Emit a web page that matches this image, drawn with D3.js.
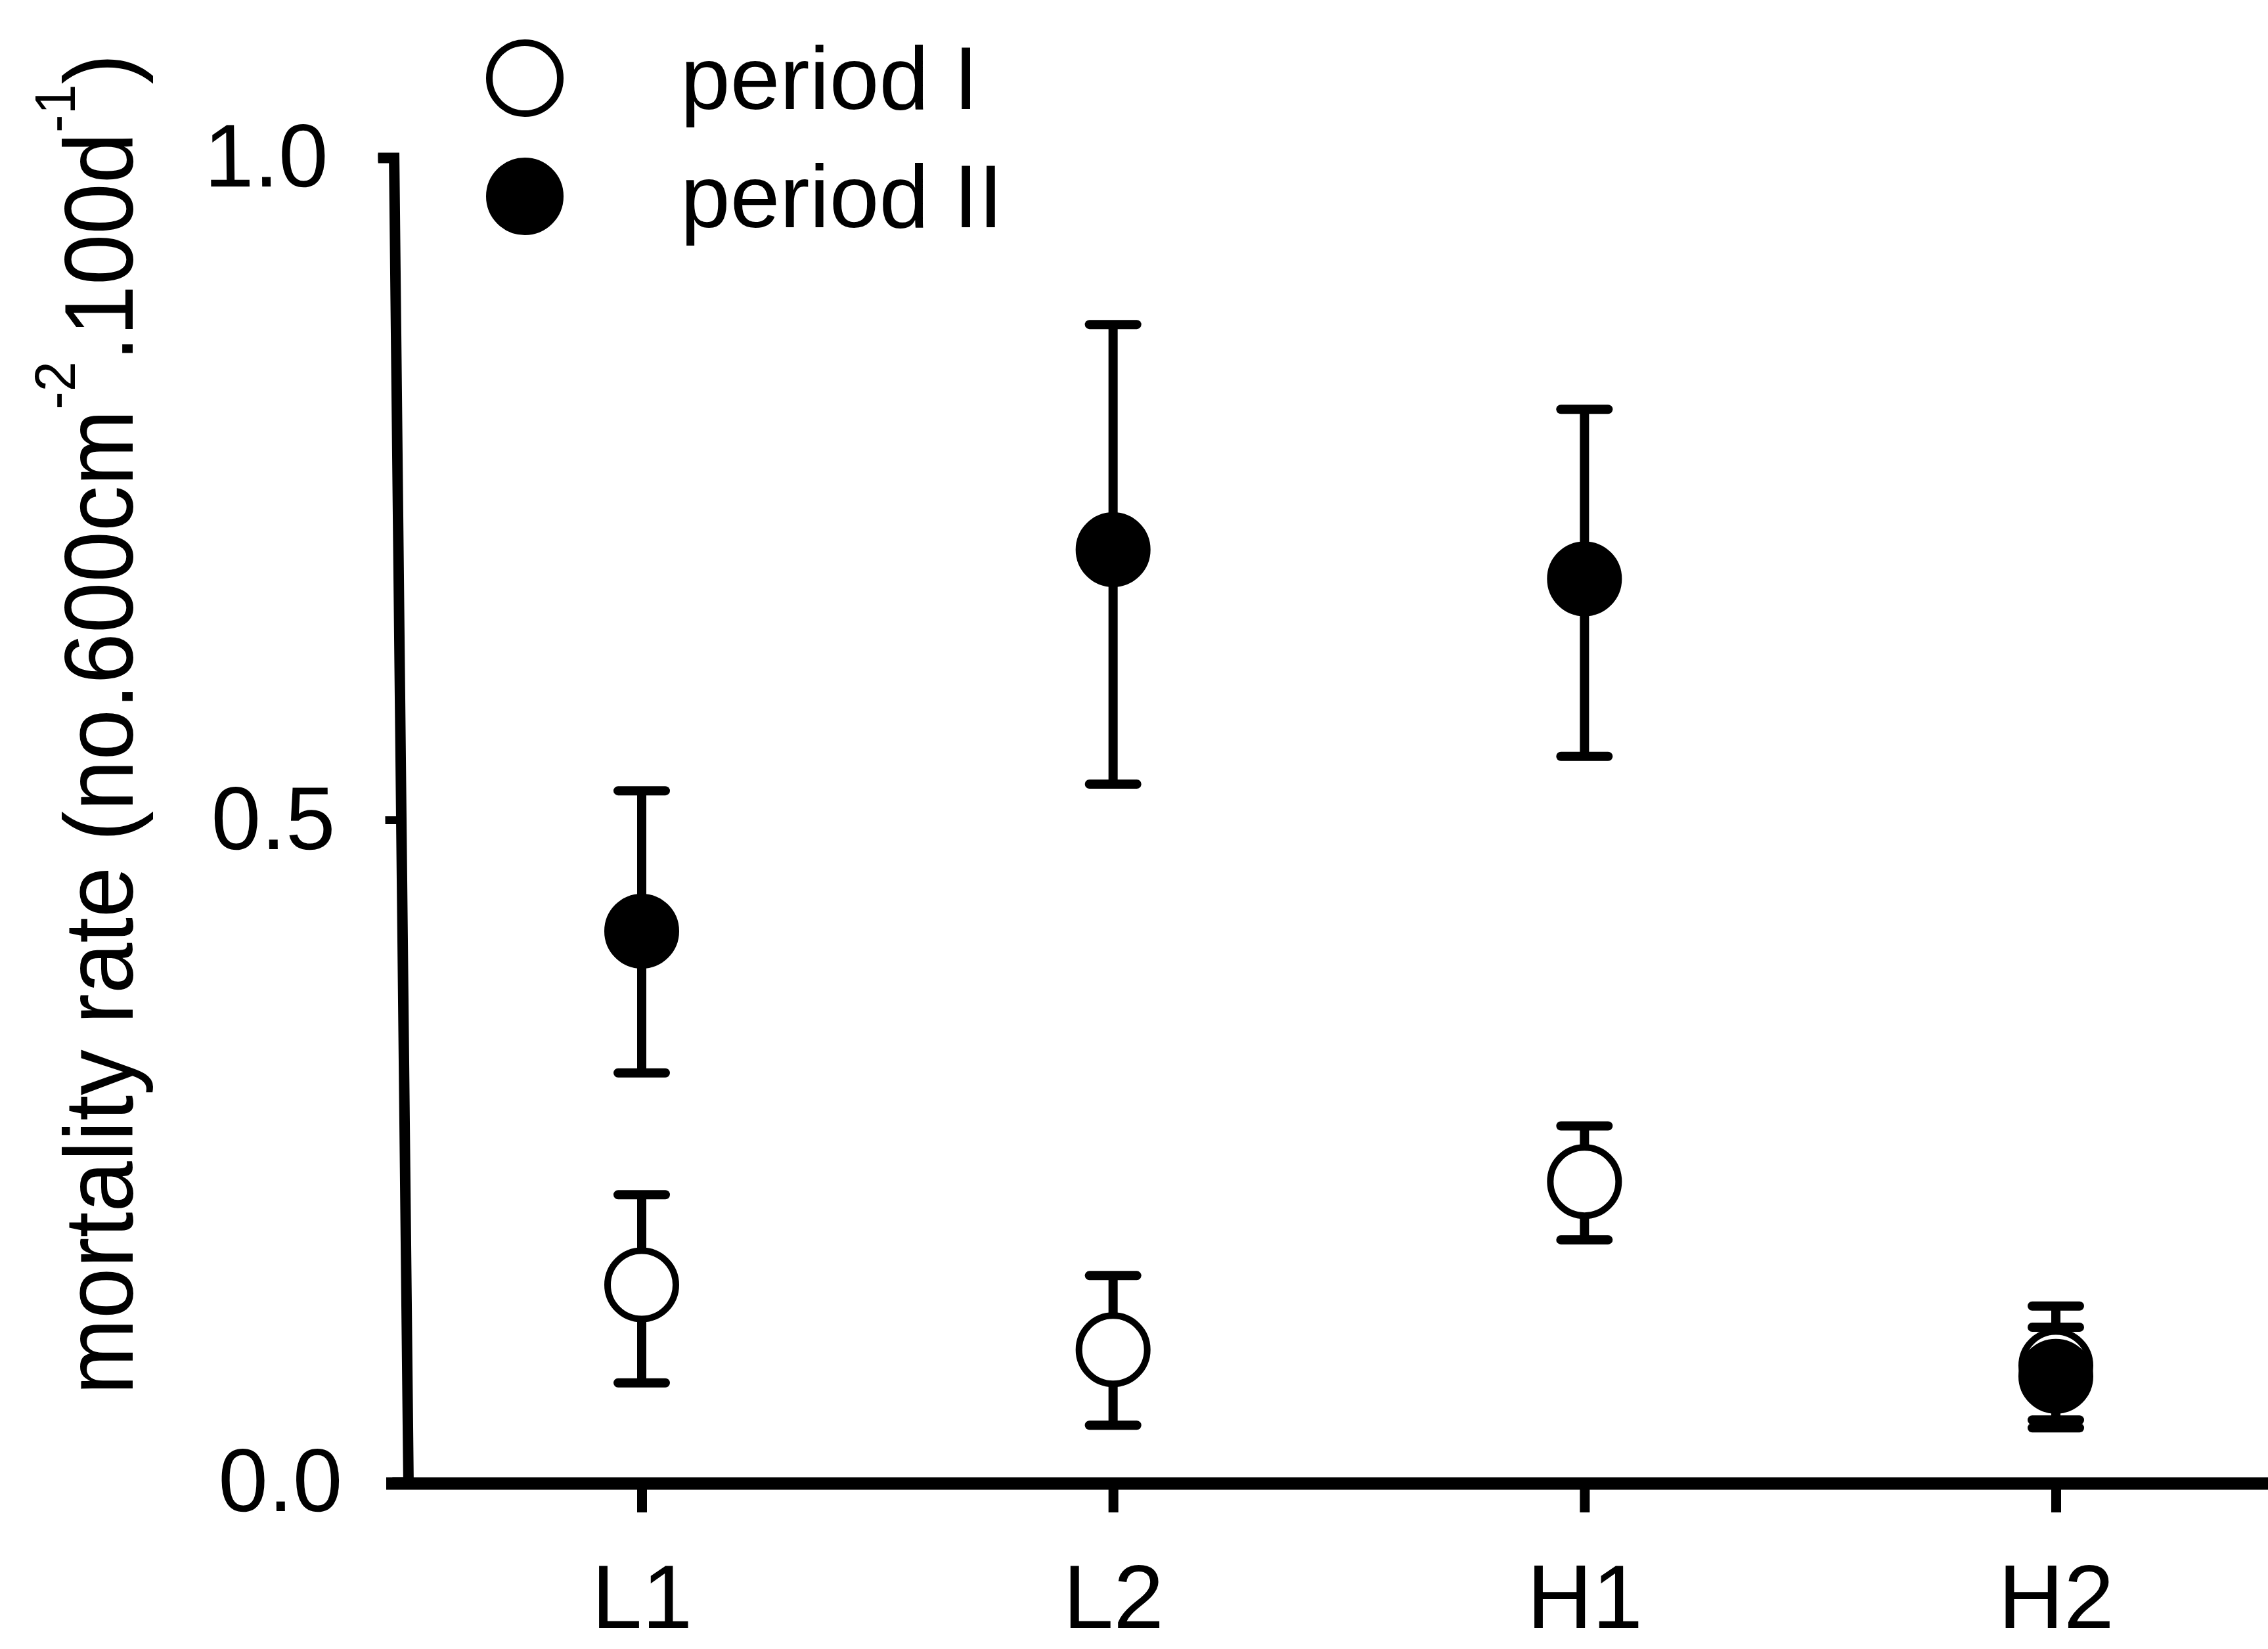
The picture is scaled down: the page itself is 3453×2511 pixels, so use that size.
<!DOCTYPE html>
<html>
<head>
<meta charset="utf-8">
<script src="https://cdn.jsdelivr.net/npm/d3@7"></script>
<style>
  html, body { margin: 0; padding: 0; background: #fff; }
  svg { display: block; }
  text { font-family: "Liberation Sans", Arial, Helvetica, sans-serif; fill: #000; }
</style>
</head>
<body>
<script>
// ---- data ----
const categories = ["L1", "L2", "H1", "H2"];
const seriesNames = ["period I", "period II"];
const periodI      = [0.149, 0.100, 0.227, 0.088];
const periodIHigh  = [0.217, 0.156, 0.269, 0.133];
const periodILow   = [0.075, 0.043, 0.183, 0.047];
const periodII     = [0.416, 0.704, 0.682, 0.080];
const periodIIHigh = [0.522, 0.874, 0.810, 0.117];
const periodIILow  = [0.309, 0.527, 0.548, 0.041];
const yTicks = [0.0, 0.5, 1.0];

// ---- layout ----
const W = 3453, H = 2511;
const svg = d3.select("body").append("svg").attr("width", W).attr("height", H);

const x = d3.scalePoint().domain(categories).range([977, 3130]);
const y = d3.scaleLinear().domain([0, 1]).range([2257, 240]);

const FONT = 136;

// y axis (slightly slanted as in the scanned original)
const yAxis = d3.axisLeft(y).tickValues(yTicks).tickFormat(d3.format(".1f"))
  .tickSize(24).tickSizeOuter(24).tickPadding(76);
const gy = svg.append("g").attr("transform", "translate(597,0) skewX(0.62)").call(yAxis);
gy.select(".domain").attr("stroke", "#000").attr("stroke-width", 16).attr("fill", "none");
gy.selectAll(".tick line").attr("stroke", "#000").attr("stroke-width", 12);
gy.selectAll(".tick text").style("font-size", FONT + "px").attr("font-family", null);

// x axis
const xAxis = d3.axisBottom(x).tickSize(46).tickSizeOuter(0).tickPadding(78);
const gx = svg.append("g").attr("transform", `translate(0,${y(0)})`).call(xAxis);
gx.select(".domain").remove();
gx.selectAll(".tick line").attr("stroke", "#000").attr("stroke-width", 15);
gx.selectAll(".tick text").style("font-size", "138px").attr("font-family", null);
svg.append("line")
  .attr("x1", 588).attr("x2", W)
  .attr("y1", y(0) + 2).attr("y2", y(0) + 2)
  .attr("stroke", "#000").attr("stroke-width", 19);

// y title
const title = svg.append("text")
  .attr("transform", `translate(202,${(82 + 2124) / 2}) rotate(-90)`)
  .attr("text-anchor", "middle")
  .attr("textLength", 2042)
  .attr("lengthAdjust", "spacingAndGlyphs")
  .style("font-size", "148px");
title.append("tspan").text("mortality rate (no.600cm");
title.append("tspan").attr("dy", -88).style("font-size", "88px").text("-2");
title.append("tspan").attr("dy", 88).text(".100d");
title.append("tspan").attr("dy", -88).style("font-size", "88px").text("-1");
title.append("tspan").attr("dy", 88).text(")");

// ---- marks ----
const R = 52, CAP = 36, EBW = 14;
const series = [
  { name: seriesNames[0], v: periodI, lo: periodILow, hi: periodIHigh, fill: "#fff" },
  { name: seriesNames[1], v: periodII, lo: periodIILow, hi: periodIIHigh, fill: "#000" }
];

series.forEach(s => {
  const g = svg.append("g");
  categories.forEach((c, i) => {
    const cx = x(c);
    g.append("line").attr("x1", cx).attr("x2", cx).attr("y1", y(s.lo[i])).attr("y2", y(s.hi[i]))
      .attr("stroke", "#000").attr("stroke-width", EBW);
    [s.lo[i], s.hi[i]].forEach(val => {
      g.append("line").attr("x1", cx - CAP).attr("x2", cx + CAP).attr("y1", y(val)).attr("y2", y(val))
        .attr("stroke", "#000").attr("stroke-width", EBW).attr("stroke-linecap", "round");
    });
  });
});
series.forEach(s => {
  svg.append("g").selectAll("circle").data(categories).join("circle")
    .attr("cx", c => x(c))
    .attr("cy", (c, i) => y(s.v[i]))
    .attr("r", R)
    .attr("fill", s.fill)
    .attr("stroke", "#000")
    .attr("stroke-width", 10);
});

// ---- legend ----
const legY = [119, 299];
series.forEach((s, i) => {
  svg.append("circle").attr("cx", 799).attr("cy", legY[i]).attr("r", R + 2)
    .attr("fill", s.fill).attr("stroke", "#000").attr("stroke-width", 10);
  svg.append("text").attr("x", 1036).attr("y", legY[i] + 47)
    .style("font-size", "136px").text(s.name);
});
</script>
</body>
</html>
